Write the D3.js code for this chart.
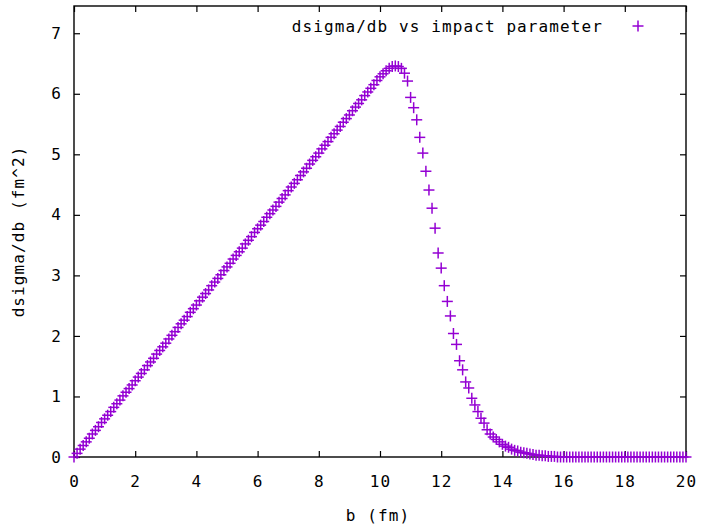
<!DOCTYPE html>
<html><head><meta charset="utf-8">
<script src="https://cdn.jsdelivr.net/npm/d3@7/dist/d3.min.js"></script>
<style>
body{margin:0;background:#fff}
text{font-family:"DejaVu Sans Mono",monospace;fill:#000}
</style>
</head><body>
<script>
// b grid (fm): start and step
const bStart = 0;
const bStep = 0.1;
// dsigma/db values (fm^2), one per b sample
const dsigmaValues = [
0.00,0.06,0.13,0.19,0.25,0.31,0.38,0.44,0.50,0.57,
0.63,0.69,0.75,0.82,0.88,0.94,1.01,1.07,1.13,1.19,
1.26,1.32,1.38,1.44,1.51,1.57,1.63,1.70,1.76,1.82,
1.88,1.95,2.01,2.07,2.14,2.20,2.26,2.32,2.39,2.45,
2.51,2.58,2.64,2.70,2.76,2.83,2.89,2.95,3.01,3.08,
3.14,3.20,3.27,3.33,3.39,3.45,3.52,3.58,3.64,3.71,
3.77,3.83,3.89,3.96,4.02,4.08,4.14,4.21,4.27,4.33,
4.40,4.46,4.52,4.58,4.65,4.71,4.77,4.84,4.90,4.96,
5.02,5.09,5.15,5.21,5.28,5.34,5.40,5.46,5.53,5.59,
5.65,5.72,5.78,5.84,5.90,5.97,6.03,6.09,6.15,6.22,
6.28,6.33,6.38,6.42,6.45,6.46,6.45,6.42,6.34,6.21,
5.94,5.77,5.57,5.28,5.02,4.72,4.41,4.11,3.78,3.37,
3.12,2.83,2.57,2.33,2.04,1.86,1.59,1.44,1.24,1.14,
0.97,0.86,0.75,0.64,0.56,0.45,0.38,0.33,0.29,0.25,
0.21,0.18,0.16,0.13,0.11,0.10,0.08,0.07,0.06,0.05,
0.04,0.03,0.03,0.02,0.02,0.01,0.01,0.01,0,0,
0,0,0,0,0,0,0,0,0,0,
0,0,0,0,0,0,0,0,0,0,
0,0,0,0,0,0,0,0,0,0,
0,0,0,0,0,0,0,0,0,0,
0
];
const xTicks = [0,2,4,6,8,10,12,14,16,18,20];
const yTicks = [0,1,2,3,4,5,6,7];
const xLabel = "b (fm)";
const yLabel = "dsigma/db (fm^2)";
const legendLabel = "dsigma/db vs impact parameter";
const color = "#9400d3";

const W = 702, H = 528;
const svg = d3.select("body").append("svg").attr("width", W).attr("height", H);

const x = d3.scaleLinear().domain([0, 20]).range([74, 686]);
const y = d3.scaleLinear().domain([0, 7.45]).range([457, 6]);

const data = dsigmaValues.map((v, i) => ({b: bStart + i * bStep, v}));

const fs = 16, ls = 1.1;

// axes (ticks inward on all sides)
const gB = svg.append("g").attr("transform", `translate(0,${y(0)})`)
  .call(d3.axisBottom(x).tickValues(xTicks).tickSize(-6).tickPadding(19).tickFormat(d3.format("d")));
const gT = svg.append("g").attr("transform", `translate(0,${y.range()[1]})`)
  .call(d3.axisTop(x).tickValues(xTicks).tickSize(-6).tickFormat(""));
const gL = svg.append("g").attr("transform", `translate(${x(0)},0)`)
  .call(d3.axisLeft(y).tickValues(yTicks).tickSize(-6).tickPadding(12).tickFormat(d3.format("d")));
const gR = svg.append("g").attr("transform", `translate(${x(20)},0)`)
  .call(d3.axisRight(y).tickValues(yTicks).tickSize(-6).tickFormat(""));
[gB, gT, gL, gR].forEach(g => {
  g.select(".domain").remove();
  g.selectAll("line").attr("stroke", "#000").attr("stroke-width", 1.2);
  g.selectAll("text").style("font-size", fs + "px").style("letter-spacing", ls + "px")
    .attr("fill", "#000").style("font-family", '"DejaVu Sans Mono",monospace');
});

// frame
svg.append("rect")
  .attr("x", x(0)).attr("y", y.range()[1])
  .attr("width", x(20) - x(0)).attr("height", y(0) - y.range()[1])
  .attr("fill", "none").attr("stroke", "#000").attr("stroke-width", 1.4);

// labels
svg.append("text").attr("x", 378).attr("y", 521).attr("text-anchor", "middle")
  .style("font-size", fs + "px").style("letter-spacing", ls + "px").text(xLabel);
svg.append("text").attr("transform", `translate(24,${(y(0) + y.range()[1]) / 2}) rotate(-90)`)
  .attr("text-anchor", "middle")
  .style("font-size", fs + "px").style("letter-spacing", ls + "px").text(yLabel);

// legend
svg.append("text").attr("x", 603).attr("y", 31.5).attr("text-anchor", "end")
  .style("font-size", fs + "px").style("letter-spacing", ls + "px").text(legendLabel);

const plus = (sel, cx, cy, r) => {
  sel.append("line").attr("x1", cx - r).attr("x2", cx + r).attr("y1", cy).attr("y2", cy);
  sel.append("line").attr("x1", cx).attr("x2", cx).attr("y1", cy - r).attr("y2", cy + r);
};
const lg = svg.append("g").attr("stroke", color).attr("stroke-width", 1.5);
plus(lg, 638, 26, 5.5);

// points
const pg = svg.append("g").attr("stroke", color).attr("stroke-width", 1.5);
data.forEach(d => plus(pg, x(d.b), y(d.v), 5.5));
</script>
</body></html>
